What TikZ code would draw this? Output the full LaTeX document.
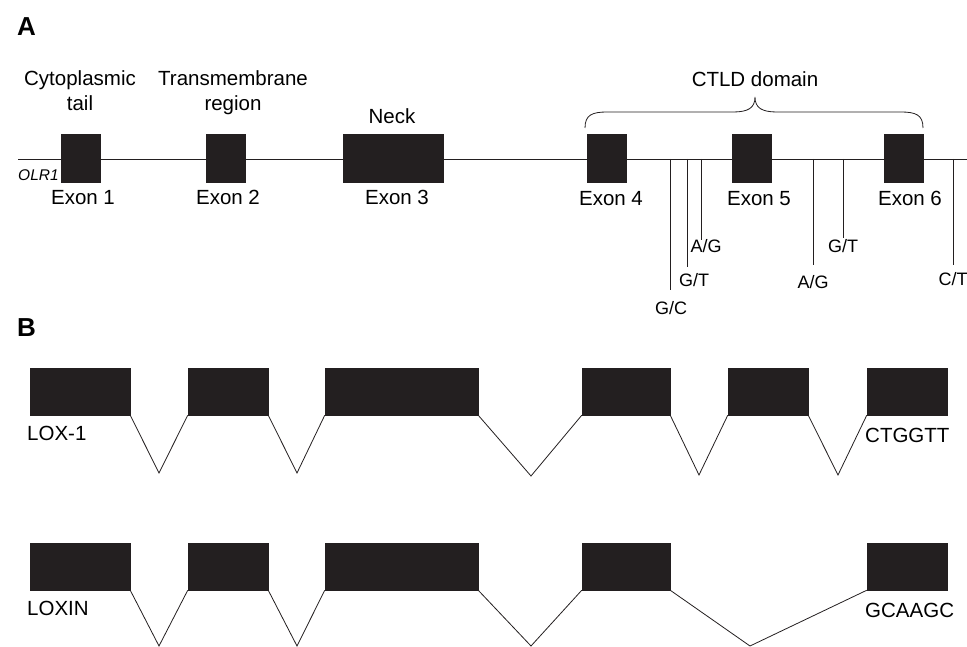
\documentclass[tikz,border=0pt]{standalone}
\usepackage{fontspec}
\setmainfont{Liberation Sans}
\definecolor{exk}{HTML}{231F20}
\definecolor{lin}{HTML}{231F20}
\begin{document}
\begin{tikzpicture}[x=1pt,y=-1pt,
  exon/.style={fill=exk, draw=exk, line width=0.5pt, inner sep=0pt, minimum height=48pt},
  bex/.style={fill=exk, draw=exk, line width=0.5pt, inner sep=0pt, minimum height=47pt},
  lab/.style={inner sep=0pt, font=\fontsize{20.5}{24}\selectfont, anchor=base},
  snp/.style={inner sep=0pt, font=\fontsize{18}{21}\selectfont, anchor=base},
  panel/.style={inner sep=0pt, font=\fontsize{26}{30}\selectfont\bfseries, anchor=base west},
  wire/.style={draw=lin, line width=0.8pt}]
\useasboundingbox (0,0) rectangle (967,647);

% ---------- Panel A ----------
\node[panel] (pA) at (17,35.5) {A};

\coordinate (bbL) at (18,159);
\coordinate (bbR) at (967,159);
\draw[wire] (bbL) -- (bbR);

\node[exon, minimum width=39pt]  (e1) at (80.5,158) {};
\node[exon, minimum width=39pt]  (e2) at (225.5,158) {};
\node[exon, minimum width=100pt] (e3) at (393,158) {};
\node[exon, minimum width=39pt]  (e4) at (606.5,158) {};
\node[exon, minimum width=39pt]  (e5) at (751.5,158) {};
\node[exon, minimum width=39pt]  (e6) at (903.5,158) {};

\node[inner sep=0pt, anchor=base west, font=\fontsize{15.5}{18}\selectfont\itshape] (olr) at (18,181) {OLR1};

\node[lab] (cyt1) at (80,86) {Cytoplasmic};
\node[lab] (cyt2) at (80,111) {tail};
\node[lab] (tm1) at (233,86) {Transmembrane};
\node[lab] (tm2) at (233,111) {region};
\node[lab] (neck) at (392,124) {Neck};

\node[lab] (x1) at (83,205) {Exon 1};
\node[lab] (x2) at (228,205) {Exon 2};
\node[lab] (x3) at (397,205) {Exon 3};
\node[lab] (x4) at (611,206) {Exon 4};
\node[lab] (x5) at (759,206) {Exon 5};
\node[lab] (x6) at (910,206) {Exon 6};

% brace
\draw[wire] (585,128) .. controls (585,115) and (592,112) .. (607,112)
  -- (733,112) .. controls (748,112) and (755,108) .. (755,97)
  .. controls (755,108) and (762,112) .. (777,112)
  -- (901,112) .. controls (916,112) and (923,115) .. (923,128);
\node[lab] (ctld) at (755,87) {CTLD domain};

% SNP markers
\coordinate (s1t) at (670,159); \coordinate (s1b) at (670,290);
\coordinate (s2t) at (687,159); \coordinate (s2b) at (687,267);
\coordinate (s3t) at (701,159); \coordinate (s3b) at (701,240);
\coordinate (s4t) at (813,159); \coordinate (s4b) at (813,265);
\coordinate (s5t) at (843,159); \coordinate (s5b) at (843,238);
\coordinate (s6t) at (953,159); \coordinate (s6b) at (953,265);
\draw[wire] (s1t) -- (s1b);
\draw[wire] (s2t) -- (s2b);
\draw[wire] (s3t) -- (s3b);
\draw[wire] (s4t) -- (s4b);
\draw[wire] (s5t) -- (s5b);
\draw[wire] (s6t) -- (s6b);
\node[snp] (l1) at (671,314) {G/C};
\node[snp] (l2) at (694,287) {G/T};
\node[snp] (l3) at (706,253) {A/G};
\node[snp] (l4) at (813,288) {A/G};
\node[snp] (l5) at (843,253) {G/T};
\node[snp] (l6) at (953,286) {C/T};

% ---------- Panel B ----------
\node[panel] (pB) at (17,336) {B};

% row 1 (LOX-1)
\node[bex, minimum width=100pt] (a1) at (80,391.5) {};
\node[bex, minimum width=80pt]  (a2) at (228,391.5) {};
\node[bex, minimum width=153pt] (a3) at (401.5,391.5) {};
\node[bex, minimum width=88pt]  (a4) at (626,391.5) {};
\node[bex, minimum width=80pt]  (a5) at (768,391.5) {};
\node[bex, minimum width=80pt]  (a6) at (907,391.5) {};
\coordinate (av1) at (159,473);
\coordinate (av2) at (297,473);
\coordinate (av3) at (531,476);
\coordinate (av4) at (699,475);
\coordinate (av5) at (838,475);
\draw[wire] (a1.south east) -- (av1) -- (a2.south west);
\draw[wire] (a2.south east) -- (av2) -- (a3.south west);
\draw[wire] (a3.south east) -- (av3) -- (a4.south west);
\draw[wire] (a4.south east) -- (av4) -- (a5.south west);
\draw[wire] (a5.south east) -- (av5) -- (a6.south west);
\node[lab, anchor=base west] (lox) at (27,440) {LOX-1};
\node[lab, anchor=base west] (seq1) at (865,442) {CTGGTT};

% row 2 (LOXIN)
\node[bex, minimum width=100pt] (b1) at (80,566.5) {};
\node[bex, minimum width=80pt]  (b2) at (228,566.5) {};
\node[bex, minimum width=153pt] (b3) at (401.5,566.5) {};
\node[bex, minimum width=88pt]  (b4) at (626,566.5) {};
\node[bex, minimum width=80pt]  (b6) at (907,566.5) {};
\coordinate (bv1) at (159,646);
\coordinate (bv2) at (297,646);
\coordinate (bv3) at (531,646);
\coordinate (bv4) at (750,646);
\draw[wire] (b1.south east) -- (bv1) -- (b2.south west);
\draw[wire] (b2.south east) -- (bv2) -- (b3.south west);
\draw[wire] (b3.south east) -- (bv3) -- (b4.south west);
\draw[wire] (b4.south east) -- (bv4) -- (b6.south west);
\node[lab, anchor=base west] (loxin) at (27,615) {LOXIN};
\node[lab, anchor=base west] (seq2) at (865,617) {GCAAGC};
\end{tikzpicture}
\end{document}
